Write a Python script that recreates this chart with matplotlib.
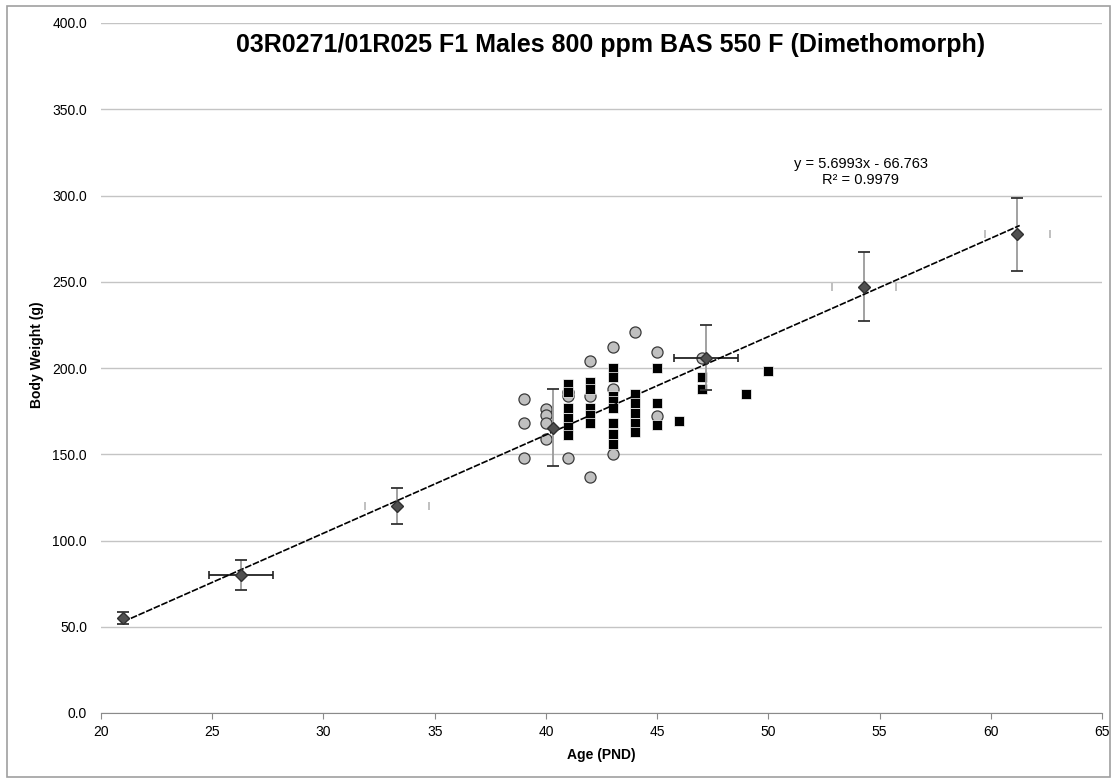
import numpy as np
import matplotlib
matplotlib.use("Agg")
import matplotlib.pyplot as plt
from matplotlib.patches import Rectangle

plt.rcParams['font.family'] = ['Liberation Sans', 'DejaVu Sans']

# group means (diamonds) with SD of body weight and age
mean_age = np.array([21.0, 26.3, 33.3, 40.3, 47.2, 54.3, 61.2])
mean_bw = np.array([55.0, 80.0, 120.0, 165.5, 206.0, 247.0, 277.5])
sd_bw = np.array([3.5, 8.7, 10.7, 22.5, 19.0, 20.0, 21.0])
sd_age = np.array([0.0, 1.45, 1.45, 0.0, 1.45, 1.45, 1.45])
dark_xerr = np.array([False, True, False, False, True, False, False])

# individual animals, grey circles
circle_age = [39, 39, 39, 40, 40, 40, 40, 41, 41, 41, 42, 42, 42,
              43, 43, 43, 44, 45, 45, 47]
circle_bw = [182, 168, 148, 176, 173, 168, 159, 186, 184, 148, 204, 184, 137,
             212, 188, 150, 221, 209, 172, 206]

# individual animals, black squares
square_age = [41, 41, 41, 41, 41, 41,
              42, 42, 42, 42, 42,
              43, 43, 43, 43, 43, 43, 43, 43,
              44, 44, 44, 44, 44,
              45, 45, 45, 46, 47, 47, 49, 50]
square_bw = [191, 186, 177, 171, 166, 161,
             192, 188, 177, 173, 168,
             200, 195, 184, 181, 177, 168, 162, 156,
             185, 180, 174, 168, 163,
             200, 180, 167, 169, 195, 188, 185, 198]

# linear trendline
slope = 5.6993
intercept = -66.763
r2 = 0.9979

title = "03R0271/01R025 F1 Males 800 ppm BAS 550 F (Dimethomorph)"

fig = plt.figure(figsize=(11.17, 7.8), dpi=100)
fig.patches.append(Rectangle((7 / 1117, 3 / 780), 1103 / 1117, 771 / 780,
                             transform=fig.transFigure, fill=False,
                             edgecolor='#a0a0a0', linewidth=1.2))
ax = fig.add_axes([101 / 1117, 67 / 780, 1001 / 1117, 690 / 780])

ax.set_xlim(20, 65)
ax.set_ylim(0, 400)
ax.set_xticks(range(20, 66, 5))
ax.set_yticks(range(0, 401, 50))
ax.set_yticklabels(["%.1f" % v for v in range(0, 401, 50)])
ax.yaxis.grid(True, color='#c4c4c4', linewidth=1)
ax.set_axisbelow(True)
for s in ['top', 'right', 'left']:
    ax.spines[s].set_visible(False)
ax.spines['bottom'].set_color('#8a8a8a')
ax.tick_params(axis='x', direction='out', length=4, color='#8a8a8a',
               labelsize=10, pad=5)
ax.tick_params(axis='y', length=0, labelsize=10, pad=10)

ax.plot(circle_age, circle_bw, 'o', ms=8, mfc='#c0c0c0', mec='#3a3a3a',
        mew=0.9, zorder=3)
ax.plot(square_age, square_bw, 's', ms=7.6, mfc='black', mec='white',
        mew=0.5, zorder=4)

# vertical error bars: grey line, dark caps
ax.errorbar(mean_age, mean_bw, yerr=sd_bw, fmt='none', ecolor='#9a9a9a',
            elinewidth=1.3, capsize=0, zorder=5)
ax.errorbar(mean_age, mean_bw, yerr=sd_bw, fmt='none', ecolor='#333333',
            elinewidth=0, capsize=4, capthick=1.3, zorder=5)
# horizontal error bars
ax.errorbar(mean_age[dark_xerr], mean_bw[dark_xerr], xerr=sd_age[dark_xerr],
            fmt='none', ecolor='#222222', elinewidth=1.3, capsize=3,
            capthick=1.2, zorder=5)
light = ~dark_xerr & (sd_age > 0)
ax.errorbar(mean_age[light], mean_bw[light], xerr=sd_age[light],
            fmt='none', ecolor='#b5b5b5', elinewidth=0, capsize=3,
            capthick=1.2, zorder=5)

xs = np.array([mean_age[0], mean_age[-1] + 0.1])
ax.plot(xs, slope * xs + intercept, color='black', linewidth=1.2,
        linestyle=(0, (4, 1)), zorder=6)

ax.plot(mean_age, mean_bw, 'D', ms=6.5, mfc='#505050', mec='#303030',
        zorder=7)

eq = "y = %.4fx - %.3f\nR² = %.4f" % (slope, -intercept, r2)
fig.text(861 / 1117, 1 - 172 / 780, eq, ha='center', va='center',
         fontsize=10.5, linespacing=1.2)

fig.text(611 / 1117, 1 - 45 / 780, title, ha='center', va='center',
         fontsize=18, fontweight='bold')

ax.set_xlabel("Age (PND)", fontsize=10, fontweight='bold', labelpad=6)
ax.set_ylabel("Body Weight (g)", fontsize=10, fontweight='bold')
ax.yaxis.set_label_coords(-57 / 1001, 0.52)

fig.savefig("out.png", dpi=100)
plt.close(fig)
